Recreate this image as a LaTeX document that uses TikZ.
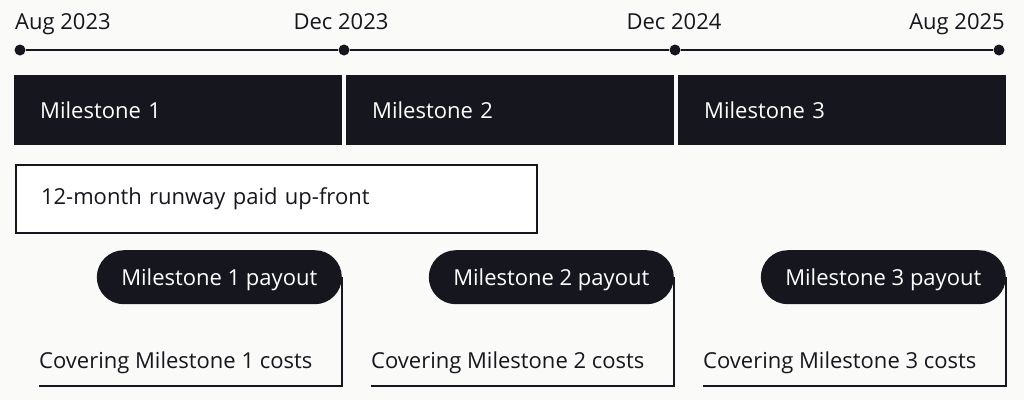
\documentclass[tikz,border=0pt]{standalone}
\usepackage{fontspec}
\setmainfont{Open Sans}
\usetikzlibrary{positioning}
\definecolor{ink}{RGB}{22,22,30}
\definecolor{paper}{RGB}{250,250,248}

\begin{document}
\begin{tikzpicture}[x=1pt, y=-1pt, font=\fontsize{22}{26}\selectfont, text=ink,
    dot/.style={circle, fill=ink, inner sep=0pt, minimum size=11pt},
    timeline/.style={draw=ink, line width=2.5pt},
    date/.style={inner sep=0pt},
    phase/.style={fill=ink, text=white, anchor=north west, minimum height=70pt,
                  inner xsep=26pt, text width=276pt, align=left},
    runway/.style={draw=ink, line width=2pt, fill=white, anchor=north west,
                   minimum height=68pt, inner xsep=25pt, text width=471pt, align=left},
    payout/.style={fill=ink, text=white, anchor=north east, minimum height=54pt,
                   minimum width=245pt, rounded corners=27pt, text depth=0pt},
    cover/.style={anchor=base west, inner sep=0pt},
    link/.style={draw=ink, line width=2pt}]
  \useasboundingbox[fill=paper] (0,0) rectangle (1024,400);

  % timeline
  \node[dot] (d1) at (20,50) {};
  \node[dot] (d2) at (344,50) {};
  \node[dot] (d3) at (675,50) {};
  \node[dot] (d4) at (999,50) {};
  \draw[timeline] (d1) -- (d2) -- (d3) -- (d4);

  \node[date, anchor=base west] (t1) at (15,29) {Aug 2023};
  \node[date, anchor=base]      (t2) at (341,29) {Dec 2023};
  \node[date, anchor=base]      (t3) at (674,29) {Dec 2024};
  \node[date, anchor=base east] (t4) at (1005,29) {Aug 2025};

  % milestones
  \node[phase] (m1) at (14,75)  {Milestone 1};
  \node[phase] (m2) at (346,75) {Milestone 2};
  \node[phase] (m3) at (678,75) {Milestone 3};

  \node[runway] (r) at (15,164) {12-month runway paid up-front};

  % payouts
  \node[payout] (p1) at (342,250)  {Milestone 1 payout};
  \node[payout] (p2) at (674,250)  {Milestone 2 payout};
  \node[payout] (p3) at (1006,250) {Milestone 3 payout};

  \node[cover] (c1) at (39,368)  {Covering Milestone 1 costs};
  \node[cover] (c2) at (371,368) {Covering Milestone 2 costs};
  \node[cover] (c3) at (703,368) {Covering Milestone 3 costs};

  \coordinate (u1) at (39,385.5);
  \coordinate (u2) at (371,385.5);
  \coordinate (u3) at (703,385.5);

  \draw[link] (p1.east) |- (u1);
  \draw[link] (p2.east) |- (u2);
  \draw[link] (p3.east) |- (u3);
\end{tikzpicture}
\end{document}
